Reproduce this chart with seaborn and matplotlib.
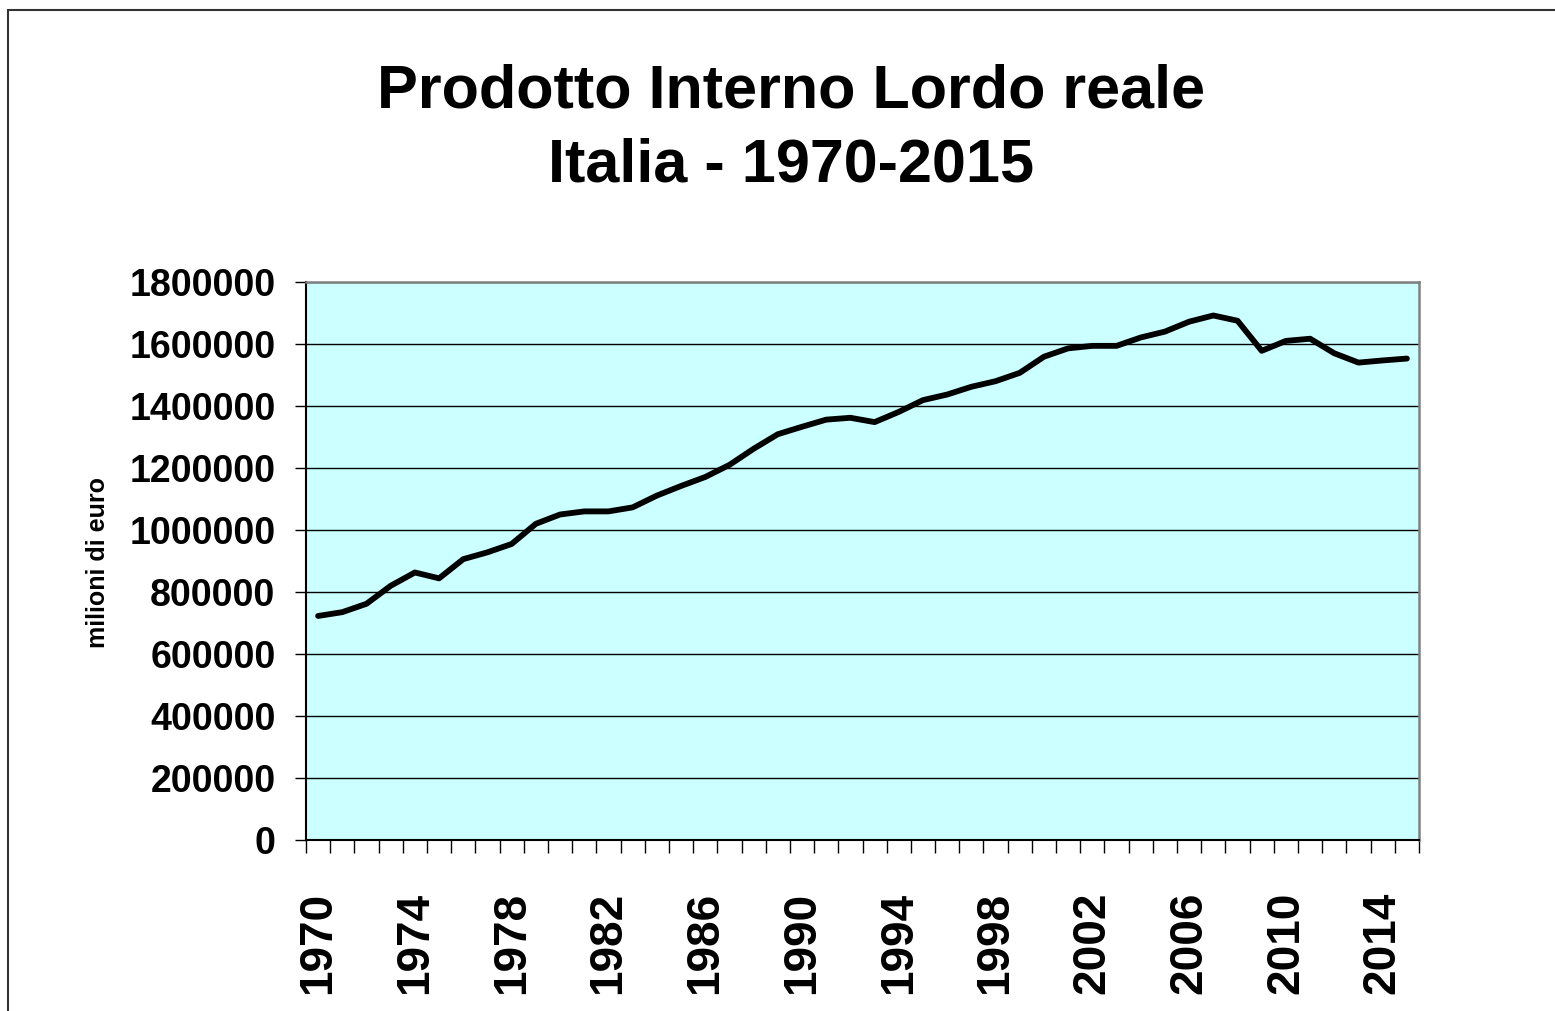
import numpy as np
import pandas as pd
import seaborn as sns
import matplotlib.pyplot as plt
from matplotlib.patches import Rectangle
from matplotlib.ticker import FixedLocator, FuncFormatter

# dati: PIL reale Italia, milioni di euro
anni = list(range(1970, 2016))
pil = [722700, 735000, 762000, 820000, 863000, 844000, 906000, 928000, 955000, 1020000,
       1050000, 1060000, 1060000, 1073000, 1111000, 1142000, 1171000, 1210000, 1262000, 1309000,
       1333000, 1356000, 1362000, 1348000, 1381000, 1419000, 1437000, 1462000, 1480000, 1507000,
       1559000, 1586000, 1594000, 1594000, 1621000, 1640000, 1672000, 1692000, 1675000, 1578000,
       1610000, 1617000, 1570000, 1540000, 1547000, 1553000]
anni_etichette = list(range(1970, 2015, 4))
y_ticks = list(range(0, 1800001, 200000))

df = pd.DataFrame({'anno': anni, 'pil': pil})

sns.set_style('white')
plt.rcParams['font.family'] = ['Liberation Sans', 'DejaVu Sans']
plt.rcParams['font.weight'] = 'bold'
plt.rcParams['text.color'] = 'black'
plt.rcParams['axes.labelcolor'] = 'black'
plt.rcParams['xtick.color'] = 'black'
plt.rcParams['ytick.color'] = 'black'

fig = plt.figure(figsize=(15.55, 10.11), dpi=100)
ax = fig.add_axes([306 / 1555, 171 / 1011, 1113 / 1555, 558 / 1011])
ax.set_facecolor('#CCFFFF')

sns.lineplot(data=df, x='anno', y='pil', color='black', linewidth=4.2, ax=ax, zorder=3)

ax.set_xlim(1969.5, 2015.5)
ax.set_ylim(0, 1800000)

# griglia orizzontale
ax.yaxis.set_major_locator(FixedLocator(y_ticks))
ax.yaxis.set_major_formatter(FuncFormatter(lambda v, p: f'{int(v)}'))
ax.grid(axis='y', color='black', linewidth=1.0)
ax.grid(axis='x', visible=False)

# tick anni: etichette al centro, trattini tra le categorie
ax.xaxis.set_major_locator(FixedLocator(anni_etichette))
ax.xaxis.set_minor_locator(FixedLocator(np.arange(1969.5, 2016, 1.0)))
ax.set_xticks(anni_etichette)
ax.set_xticklabels([str(a) for a in anni_etichette], rotation=90, fontsize=33, fontweight='bold')
ax.tick_params(axis='x', which='major', length=0, pad=37)
ax.tick_params(axis='x', which='minor', length=9, width=1.0, color='black', direction='out', bottom=True)
ax.tick_params(axis='y', which='major', length=8, width=1.0, color='black', direction='out',
               labelsize=27, pad=14, left=True)
for lab in ax.get_yticklabels():
    lab.set_fontweight('bold')

for s in ['left', 'bottom']:
    ax.spines[s].set_color('black')
    ax.spines[s].set_linewidth(1.5)
for s in ['top', 'right']:
    ax.spines[s].set_color('#808080')
    ax.spines[s].set_linewidth(1.8)

ax.set_xlabel('')
ax.set_ylabel('milioni di euro', fontsize=18, fontweight='bold')
ax.yaxis.set_label_coords(-0.176, 0.498)

# titolo
fig.text(0.509, 1 - 107 / 1011, 'Prodotto Interno Lordo reale', ha='center', va='baseline',
         fontsize=44, fontweight='bold')
fig.text(0.509, 1 - 182 / 1011, 'Italia - 1970-2015', ha='center', va='baseline',
         fontsize=44, fontweight='bold')

# bordo del grafico
fig.patches.append(Rectangle((7.5 / 1555, -0.05), 1.2, (1011 - 9.5) / 1011 + 0.05,
                             transform=fig.transFigure, fill=False, edgecolor='#333333',
                             linewidth=1.5))

fig.savefig('out.png', dpi=100)
